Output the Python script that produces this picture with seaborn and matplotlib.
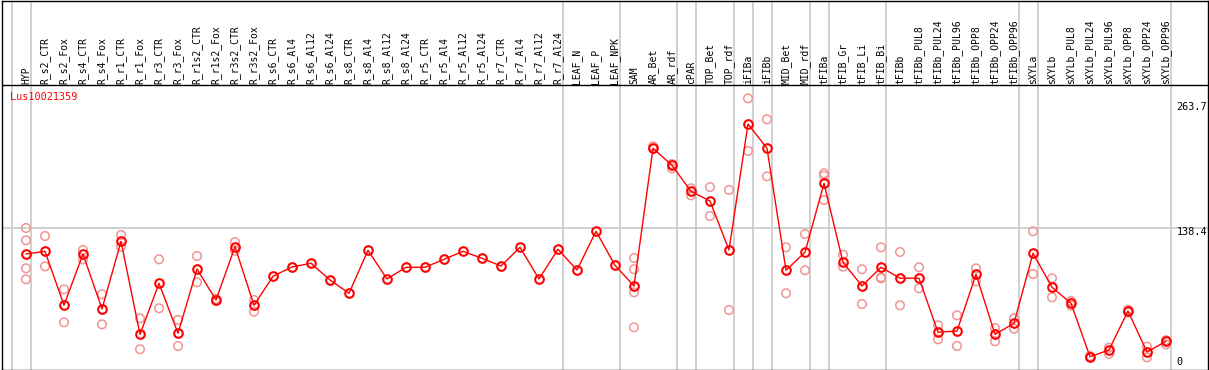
import numpy as np
import pandas as pd
import matplotlib
matplotlib.use("Agg")
import matplotlib.pyplot as plt
import seaborn as sns

# ---------------- data ----------------
samples = ["HYP", "R_s2_CTR", "R_s2_Fox", "R_s4_CTR", "R_s4_Fox", "R_r1_CTR", "R_r1_Fox",
           "R_r3_CTR", "R_r3_Fox", "R_r1s2_CTR", "R_r1s2_Fox", "R_r3s2_CTR", "R_r3s2_Fox",
           "R_s6_CTR", "R_s6_Al4", "R_s6_Al12", "R_s6_Al24", "R_s8_CTR", "R_s8_Al4",
           "R_s8_Al12", "R_s8_Al24", "R_r5_CTR", "R_r5_Al4", "R_r5_Al12", "R_r5_Al24",
           "R_r7_CTR", "R_r7_Al4", "R_r7_Al12", "R_r7_Al24", "LEAF_N", "LEAF_P", "LEAF_NPK",
           "SAM", "AR_Bet", "AR_rdf", "cPAR", "TOP_Bet", "TOP_rdf", "iFIBa", "iFIBb",
           "MID_Bet", "MID_rdf", "tFIBa", "tFIB_Gr", "tFIB_Li", "tFIB_Bi", "tFIBb",
           "tFIBb_PUL8", "tFIBb_PUL24", "tFIBb_PUL96", "tFIBb_OPP8", "tFIBb_OPP24",
           "tFIBb_OPP96", "sXYLa", "sXYLb", "sXYLb_PUL8", "sXYLb_PUL24", "sXYLb_PUL96",
           "sXYLb_OPP8", "sXYLb_OPP24", "sXYLb_OPP96"]

means = [113.3, 115.9, 63.8, 113.3, 60.2, 125.6, 35.7, 85.0, 36.7, 98.8, 68.9, 120.4, 63.8,
         91.8, 100.8, 104.4, 88.2, 75.4, 116.9, 89.2, 100.5, 100.5, 108.2, 115.9, 109.2,
         101.7, 119.8, 89.2, 117.9, 97.9, 135.3, 102.4,
         82.4, 215.5, 199.0, 173.9, 164.5, 117.2, 238.9, 215.5,
         97.6, 115.0, 181.6, 105.3, 82.4, 100.5, 90.0,
         89.9, 37.7, 38.9, 93.7, 35.7, 46.4, 114.0, 81.2, 65.7, 14.1, 20.6,
         58.3, 18.6, 29.0]

# replicate measurements (sample, value)
rep_samples = ["HYP", "HYP", "HYP", "HYP",
               "R_s2_CTR", "R_s2_CTR", "R_s2_Fox", "R_s2_Fox",
               "R_s4_CTR", "R_s4_CTR", "R_s4_Fox", "R_s4_Fox",
               "R_r1_CTR", "R_r1_CTR", "R_r1_Fox", "R_r1_Fox",
               "R_r3_CTR", "R_r3_CTR", "R_r3_Fox", "R_r3_Fox",
               "R_r1s2_CTR", "R_r1s2_CTR", "R_r1s2_Fox", "R_r1s2_Fox",
               "R_r3s2_CTR", "R_r3s2_CTR", "R_r3s2_Fox", "R_r3s2_Fox",
               "SAM", "SAM", "SAM", "SAM",
               "AR_Bet", "AR_Bet", "AR_rdf", "AR_rdf", "cPAR", "cPAR",
               "TOP_Bet", "TOP_Bet", "TOP_rdf", "TOP_rdf",
               "iFIBa", "iFIBa", "iFIBb", "iFIBb",
               "MID_Bet", "MID_Bet", "MID_rdf", "MID_rdf",
               "tFIBa", "tFIBa", "tFIBa", "tFIB_Gr", "tFIB_Gr",
               "tFIB_Li", "tFIB_Li", "tFIB_Bi", "tFIB_Bi", "tFIB_Bi",
               "tFIBb", "tFIBb", "tFIBb_PUL8", "tFIBb_PUL8",
               "tFIBb_PUL24", "tFIBb_PUL24", "tFIBb_PUL96", "tFIBb_PUL96",
               "tFIBb_OPP8", "tFIBb_OPP8", "tFIBb_OPP24", "tFIBb_OPP24",
               "tFIBb_OPP96", "tFIBb_OPP96", "sXYLa", "sXYLa", "sXYLb", "sXYLb",
               "sXYLb_PUL8", "sXYLb_PUL8", "sXYLb_PUL24", "sXYLb_PUL24",
               "sXYLb_PUL96", "sXYLb_PUL96", "sXYLb_OPP8", "sXYLb_OPP8",
               "sXYLb_OPP24", "sXYLb_OPP24", "sXYLb_OPP96", "sXYLb_OPP96"]
rep_values = [138.5, 126.6, 99.5, 88.9,
              130.7, 101.4, 79.2, 47.3,
              117.2, 108.0, 74.4, 45.4,
              131.7, 120.4, 51.2, 21.3,
              108.2, 60.9, 49.6, 24.4,
              111.4, 86.0, 70.0, 68.0,
              124.9, 116.5, 68.9, 57.6,
              109.5, 98.6, 76.3, 42.5,
              217.4, 215.0, 200.3, 196.0, 176.8, 170.0,
              178.0, 150.0, 175.2, 59.2,
              263.7, 212.9, 243.5, 188.4,
              119.8, 75.4, 132.7, 97.6,
              191.3, 189.0, 165.5, 112.7, 101.1,
              98.6, 65.0, 119.8, 90.8, 89.9,
              115.3, 63.8, 100.5, 80.2,
              44.4, 30.9, 54.1, 24.4,
              99.5, 87.0, 41.8, 29.0,
              51.2, 41.2, 135.3, 94.0, 89.9, 71.5,
              67.9, 63.5, 14.7, 13.5,
              22.8, 16.7, 59.5, 57.0,
              23.8, 13.5, 30.1, 26.0]

title = "Lus10021359"
ytick_labels = ["263.7", "138.4", "0"]
ytick_values = [255.4, 134.6, 9.0]      # text anchor levels
hgrid_value = 138.4
group_after = ["", "HYP", "R_r7_Al24", "LEAF_NPK", "AR_rdf", "cPAR", "TOP_rdf", "iFIBa",
               "iFIBb", "MID_rdf", "tFIBa", "tFIB_Bi", "tFIBb_OPP96", "sXYLa", "sXYLb_OPP96"]

# ---------------- frames ----------------
idx = {s: i for i, s in enumerate(samples)}
df_mean = pd.DataFrame({"pos": np.arange(len(samples)), "value": means})
df_rep = pd.DataFrame({"pos": [idx[s] for s in rep_samples], "value": rep_values})

# ---------------- figure ----------------
sns.set_style("white")
plt.rcParams["font.family"] = ["DejaVu Sans Mono", "DejaVu Sans"]

W, H = 1209, 370
fig = plt.figure(figsize=(W / 100, H / 100), dpi=100)
ax = fig.add_axes([1.5 / W, 0.5 / H, 1206 / W, 369 / H])

xmin = -24.5 / 19
xmax = xmin + 1206 / 19
ymin, ymax = 1.8 / 1.035, 370.8 / 1.035
ax.set_xlim(xmin, xmax)
ax.set_ylim(ymin, ymax)

grid_c = "#c4c4c4"
# vertical group separators
for s in group_after:
    p = idx[s] if s else -1
    ax.axvline(p + 4.5 / 19, color=grid_c, lw=1.1, zorder=0)
# horizontal reference line
ax.axhline(hgrid_value, color=grid_c, lw=1.1, zorder=0)
# header separator
header_v = (371.3 - 85) / 1.035
ax.axhline(header_v, color="black", lw=1.0, zorder=1)

# replicates
sns.scatterplot(data=df_rep, x="pos", y="value", ax=ax, marker="o", s=38,
                facecolors="none", edgecolor="#f09494", linewidth=1.1, zorder=2,
                legend=False)
# mean line
sns.lineplot(data=df_mean, x="pos", y="value", ax=ax, color="red", lw=1.0,
             marker="o", markersize=6.2, markerfacecolor="none",
             markeredgecolor="red", markeredgewidth=1.5, zorder=3, legend=False)

# column labels
label_v = (371.3 - 83.5) / 1.035
for i, s in enumerate(samples):
    ax.text(i, label_v, s, rotation=90, ha="center", va="bottom", fontsize=7,
            color="black", zorder=4)

ax.text(xmin + 8.5 / 19, (371.3 - 97) / 1.035, title, color="red", fontsize=7.3,
        ha="left", va="center", zorder=4)

xr = xmin + (1176.5 - 1.5) / 19
for lab, v in zip(ytick_labels, ytick_values):
    ax.text(xr, v, lab, ha="left", va="center", fontsize=7.3, color="black", zorder=4)

ax.set_xticks([])
ax.set_yticks([])
ax.set_xlabel("")
ax.set_ylabel("")
for sp in ax.spines.values():
    sp.set_visible(True)
    sp.set_color("black")
    sp.set_linewidth(1.0)

fig.savefig("out.png", dpi=100)
